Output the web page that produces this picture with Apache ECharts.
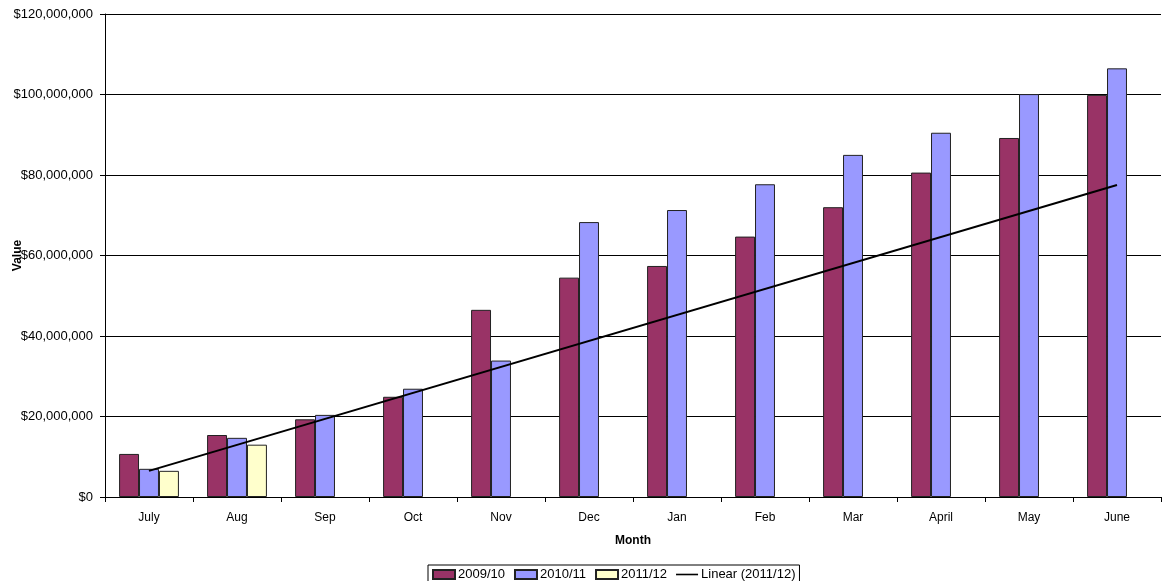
<!DOCTYPE html>
<html>
<head>
<meta charset="utf-8">
<script src="https://cdn.jsdelivr.net/npm/echarts@6/dist/echarts.min.js"></script>
<style>
  html, body { margin: 0; padding: 0; background: #fff; }
  #main { width: 1163px; height: 581px; }
</style>
</head>
<body>
<div id="main"></div>
<script>
const months = ["July", "Aug", "Sep", "Oct", "Nov", "Dec", "Jan", "Feb", "Mar", "April", "May", "June"];

// values
const fy0910 = [10.7e6, 15.4e6, 19.3e6, 24.9e6, 46.5e6, 54.5e6, 57.4e6, 64.7e6, 72.0e6, 80.6e6, 89.2e6, 99.9e6];
const fy1011 = [7.0e6, 14.7e6, 20.4e6, 26.9e6, 33.9e6, 68.3e6, 71.3e6, 77.7e6, 85.0e6, 90.5e6, 100.1e6, 106.5e6];
const fy1112 = [6.5e6, 13.0e6, null, null, null, null, null, null, null, null, null, null];
// trendline end points (July .. June)
const trend1112 = [6.5e6, null, null, null, null, null, null, null, null, null, null, 77.5e6];

const yTicks = { min: 0, max: 120e6, interval: 20e6 };

const chart = echarts.init(document.getElementById("main"));

const fmtMoney = (v) => "$" + v.toString().replace(/\B(?=(\d{3})+(?!\d))/g, ",");
const font = "Liberation Sans";

const barStyle = (color) => ({
  color: color,
  borderColor: "#222",
  borderWidth: 1,
});

const option = {
  animation: false,
  textStyle: { fontFamily: font },
  grid: { left: 105, right: 2, top: 14, bottom: 84, containLabel: false, outerBoundsMode: "none" },
  xAxis: {
    type: "category",
    data: months,
    name: "Month",
    nameLocation: "middle",
    nameGap: 38,
    nameMoveOverlap: false,
    nameTextStyle: { fontWeight: "bold", fontSize: 12, color: "#000" },
    axisLine: { lineStyle: { color: "#000", width: 1 } },
    axisTick: { show: true, length: 5, lineStyle: { color: "#000" } },
    axisLabel: { color: "#000", fontSize: 12, margin: 15 },
  },
  yAxis: {
    type: "value",
    min: yTicks.min,
    max: yTicks.max,
    interval: yTicks.interval,
    name: "Value",
    nameLocation: "middle",
    nameGap: 81,
    nameMoveOverlap: false,
    nameTextStyle: { fontWeight: "bold", fontSize: 12, color: "#000" },
    axisLine: { show: true, lineStyle: { color: "#000", width: 1 } },
    axisTick: { show: true, length: 5, lineStyle: { color: "#000" } },
    axisLabel: { color: "#000", fontSize: 13, margin: 12, formatter: fmtMoney },
    splitLine: { show: true, lineStyle: { color: "#000", width: 1 } },
  },
  legend: {
    left: 428,
    top: 565,
    orient: "horizontal",
    borderColor: "#000",
    borderWidth: 1,
    padding: [3, 4, 3, 4],
    itemGap: 9,
    itemWidth: 22,
    itemHeight: 9,
    textStyle: { fontSize: 13, color: "#000", padding: [0, 0, 0, -2] },
    data: [
      { name: "2009/10", icon: "rect" },
      { name: "2010/11", icon: "rect" },
      { name: "2011/12", icon: "rect" },
      { name: "Linear (2011/12)", icon: "path://M0,0 L22,0 L22,1.6 L0,1.6 Z" },
    ],
  },
  series: [
    {
      name: "2009/10",
      type: "bar",
      data: fy0910,
      barGap: "0%",
      barCategoryGap: "32%",
      itemStyle: barStyle("#993366"),
    },
    {
      name: "2010/11",
      type: "bar",
      data: fy1011,
      itemStyle: barStyle("#9999FF"),
    },
    {
      name: "2011/12",
      type: "bar",
      data: fy1112,
      itemStyle: barStyle("#FFFFCC"),
    },
    {
      name: "Linear (2011/12)",
      type: "line",
      data: trend1112,
      connectNulls: true,
      symbol: "none",
      lineStyle: { color: "#000", width: 2 },
      itemStyle: { color: "#000" },
      z: 5,
    },
  ],
};

chart.setOption(option);
</script>
</body>
</html>
